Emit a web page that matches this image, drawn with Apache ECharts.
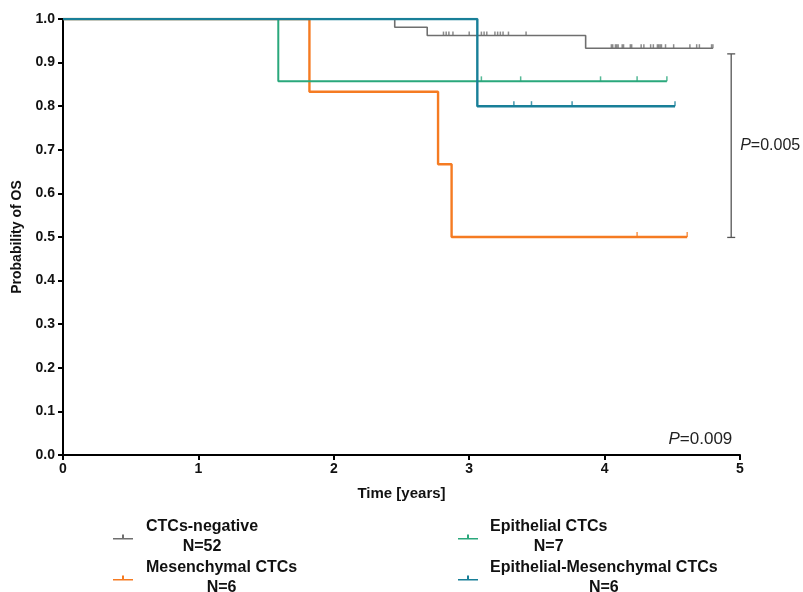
<!DOCTYPE html>
<html>
<head>
<meta charset="utf-8">
<script src="https://cdn.jsdelivr.net/npm/echarts@6/dist/echarts.min.js"></script>
<style>
html,body{margin:0;padding:0;background:#fff;}
#kmChart{width:803px;height:592px;}
</style>
</head>
<body>
<div id="kmChart"></div>
<script>
// group names and sizes
var groupNames = ['CTCs-negative', 'Mesenchymal CTCs', 'Epithelial CTCs', 'Epithelial-Mesenchymal CTCs'];
var groupN = ['N=52', 'N=6', 'N=7', 'N=6'];
var groupColors = ['#6f6f6f', '#f57b22', '#2aa87c', '#187f98'];

// event times (years) and survival after each event
var negEventT = [2.45, 2.69, 3.86];
var negEventS = [0.981, 0.962, 0.933];
var negEnd = 4.80;
var negCensor = [2.81, 2.83, 2.85, 2.88, 3.00, 3.09, 3.11, 3.13, 3.19, 3.21, 3.23, 3.25, 3.29, 3.42,
    4.05, 4.06, 4.08, 4.09, 4.10, 4.13, 4.14, 4.19, 4.20, 4.27, 4.29, 4.34, 4.36, 4.39, 4.40, 4.41,
    4.42, 4.45, 4.51, 4.63, 4.68, 4.70, 4.79, 4.80];

var mesEventT = [1.82, 2.77, 2.87];
var mesEventS = [0.833, 0.667, 0.50];
var mesEnd = 4.61;
var mesCensor = [4.24, 4.61];

var epiEventT = [1.59];
var epiEventS = [0.857];
var epiEnd = 4.46;
var epiCensor = [3.09, 3.38, 3.97, 4.24, 4.46];

var emEventT = [3.06];
var emEventS = [0.80];
var emEnd = 4.52;
var emCensor = [3.33, 3.46, 3.76, 4.52];

var xTicks = [0, 1, 2, 3, 4, 5];
var pLogrank = 'P=0.009';
var pPair = 'P=0.005';

var FONT = '"Liberation Sans", Arial, sans-serif';

function curve(ts, ss, end) {
    var d = [[0, 1]];
    for (var i = 0; i < ts.length; i++) d.push([ts[i], ss[i]]);
    d.push([end, ss[ss.length - 1]]);
    return d;
}
function survAt(ts, ss, t) {
    var s = 1;
    for (var i = 0; i < ts.length; i++) { if (ts[i] <= t) s = ss[i]; }
    return s;
}
function censorPts(ts, ss, cs) {
    return cs.map(function (c) { return [c, survAt(ts, ss, c)]; });
}

// order = drawing order (later on top)
var groups = [
    [negEventT, negEventS, negEnd, negCensor, 1.6, 4],
    [mesEventT, mesEventS, mesEnd, mesCensor, 2.4, 5],
    [epiEventT, epiEventS, epiEnd, epiCensor, 2, 5],
    [emEventT, emEventS, emEnd, emCensor, 2.4, 5]
];

var series = [];
groups.forEach(function (g, i) {
    series.push({
        name: groupNames[i],
        type: 'line',
        step: 'end',
        symbol: 'none',
        data: curve(g[0], g[1], g[2]),
        lineStyle: { color: groupColors[i], width: g[4] },
        itemStyle: { color: groupColors[i] },
        z: 2 + i
    });
    series.push({
        name: groupNames[i] + ' censored',
        type: 'scatter',
        symbol: 'rect',
        symbolSize: [1.5, g[5]],
        symbolOffset: [0, -g[5] / 2],
        data: censorPts(g[0], g[1], g[3]),
        itemStyle: { color: groupColors[i] },
        silent: true,
        z: 2 + i
    });
});

var legendIcon = 'path://M0,14 L40,14 L40,17 L0,17 Z M18,7 L22,7 L22,14 L18,14 Z';
function legendText(space) {
    var base = { fontFamily: FONT, fontSize: 16, fontWeight: 'bold', color: '#111', lineHeight: 20 };
    return {
        fontFamily: FONT, fontSize: 16, fontWeight: 'bold', color: '#111', lineHeight: 20,
        rich: {
            s: Object.assign({}, base, { width: space }),
            t: Object.assign({}, base),
            n: Object.assign({}, base, { align: 'center' })
        }
    };
}
function legendFmt(name) {
    return '{s| }{t|' + name + '}\n{s| }{n|' + groupN[groupNames.indexOf(name)] + '}';
}
// one legend entry per box: [left, top, spacer]
var legendPos = [[113, 517, 8], [113, 558, 8], [458, 517, 7], [458, 558, 7]];
var legends = groupNames.map(function (nm, i) {
    return {
        data: [nm],
        left: legendPos[i][0], top: legendPos[i][1], padding: 0,
        itemWidth: 20, itemHeight: 9, icon: legendIcon,
        formatter: legendFmt, textStyle: legendText(legendPos[i][2]),
        selectedMode: false
    };
});

var chart = echarts.init(document.getElementById('kmChart'));
var option = {
    animation: false,
    backgroundColor: '#fff',
    grid: { left: 63, right: 63, top: 19, bottom: 137 },
    xAxis: {
        type: 'value', min: xTicks[0], max: xTicks[xTicks.length - 1], interval: 1,
        name: 'Time [years]', nameLocation: 'middle', nameGap: 31,
        nameTextStyle: { fontFamily: FONT, fontSize: 15, fontWeight: 'bold', color: '#111' },
        axisLine: { lineStyle: { color: '#000', width: 2 } },
        axisTick: { show: true, length: 5, lineStyle: { color: '#000', width: 2 } },
        axisLabel: { fontFamily: FONT, fontSize: 14, fontWeight: 'bold', color: '#111', margin: 7 },
        splitLine: { show: false }
    },
    yAxis: {
        type: 'value', min: 0, max: 1, interval: 0.1,
        name: 'Probability of OS', nameLocation: 'middle', nameGap: 38, nameRotate: 90,
        nameTextStyle: { fontFamily: FONT, fontSize: 14, fontWeight: 'bold', color: '#111' },
        axisLine: { show: true, lineStyle: { color: '#000', width: 2 } },
        axisTick: { show: true, length: 5, lineStyle: { color: '#000', width: 2 } },
        axisLabel: {
            fontFamily: FONT, fontSize: 14, fontWeight: 'bold', color: '#111', margin: 8,
            formatter: function (v) { return v.toFixed(1); }
        },
        splitLine: { show: false }
    },
    legend: legends,
    series: series
};
chart.setOption(option);

// bracket between CTCs-negative and Mesenchymal curves, and p-values
var bTop = chart.convertToPixel({ gridIndex: 0 }, [4.935, 0.92]);
var bBot = chart.convertToPixel({ gridIndex: 0 }, [4.935, 0.499]);
var pBR = chart.convertToPixel({ gridIndex: 0 }, [4.98, 0.017]);
chart.setOption({
    graphic: [
        {
            type: 'polyline',
            shape: { points: [[bTop[0] - 4, bTop[1]], [bTop[0] + 4, bTop[1]]] },
            style: { stroke: '#555', lineWidth: 1.3 }
        },
        {
            type: 'polyline',
            shape: { points: [[bTop[0], bTop[1]], [bBot[0], bBot[1]]] },
            style: { stroke: '#555', lineWidth: 1.3 }
        },
        {
            type: 'polyline',
            shape: { points: [[bBot[0] - 4, bBot[1]], [bBot[0] + 4, bBot[1]]] },
            style: { stroke: '#555', lineWidth: 1.3 }
        },
        {
            type: 'text',
            x: bTop[0] + 9, y: (bTop[1] + bBot[1]) / 2,
            style: {
                text: '{i|P}' + pPair.slice(1), verticalAlign: 'middle',
                font: '16px "Liberation Sans", Arial, sans-serif', fill: '#222',
                rich: { i: { fontStyle: 'italic', fontSize: 16, fontFamily: 'Liberation Sans' } }
            }
        },
        {
            type: 'text',
            x: pBR[0] - 5, y: pBR[1],
            style: {
                text: '{i|P}' + pLogrank.slice(1), align: 'right', verticalAlign: 'bottom',
                font: '17px "Liberation Sans", Arial, sans-serif', fill: '#222',
                rich: { i: { fontStyle: 'italic', fontSize: 17, fontFamily: 'Liberation Sans' } }
            }
        }
    ]
});
</script>
</body>
</html>
